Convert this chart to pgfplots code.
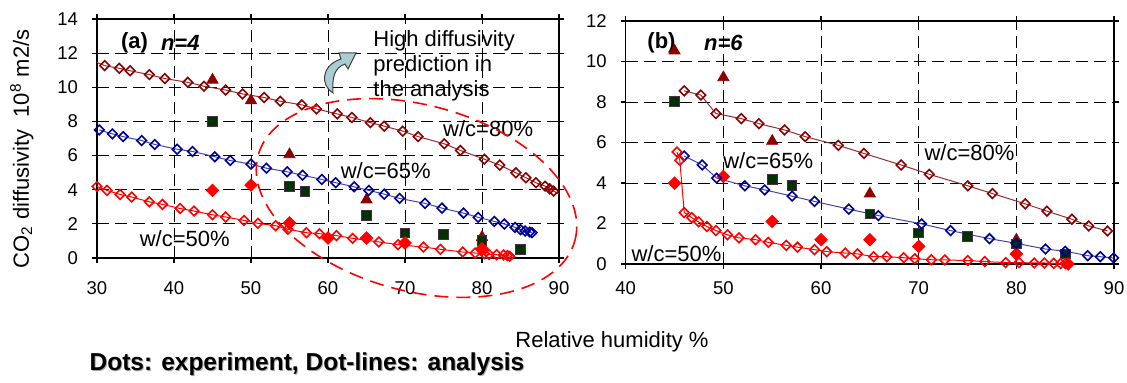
\documentclass[border=0pt]{standalone}
\usepackage{fontspec}
\setmainfont{Liberation Sans}
\usepackage{pgfplots}
\pgfplotsset{compat=1.18}
\definecolor{dred}{RGB}{140,0,0}
\definecolor{dredline}{RGB}{150,45,45}
\definecolor{navym}{RGB}{0,0,150}
\definecolor{navyl}{RGB}{60,70,175}
\definecolor{gsq}{RGB}{0,50,0}
\definecolor{gsqedge}{RGB}{80,40,80}
\definecolor{arrowfill}{RGB}{170,205,212}
\newcommand\tickfont{\fontsize{9.25}{11}\selectfont}
\newcommand\labfont{\fontsize{11}{13}\selectfont}
\pgfplotsset{
 panel/.style={scale only axis, axis line style={line width=0.6pt},
   grid=major, major grid style={black, line width=0.45pt, dash pattern=on 6pt off 3pt},
   tick align=outside, major tick length=2.5pt, tick style={black, line width=0.6pt},
   ticklabel style={font=\tickfont}, /pgf/number format/assume math mode=true,
   yticklabel style={xshift=-3.5pt}, clip=false},
 anal80/.style={color=dredline, line width=0.5pt, mark=square, mark size=1.7pt,
   mark options={rotate=45, line width=0.8pt, fill=white, draw=dred, solid}},
 anal65/.style={color=navyl, line width=0.5pt, mark=square, mark size=1.7pt,
   mark options={rotate=45, line width=0.8pt, fill=white, draw=navym, solid}},
 anal50/.style={color=red, line width=0.5pt, mark=square, mark size=1.7pt,
   mark options={rotate=45, line width=0.8pt, fill=white, draw=red, solid}},
 exptri/.style={only marks, mark=triangle*, mark size=3.2pt, mark options={fill=dred, draw=dred}},
 expsq/.style={only marks, mark=square*, mark size=2.4pt, mark options={fill=gsq, draw=gsqedge, line width=0.4pt}},
 expdia/.style={only marks, mark=square*, mark size=2.2pt, mark options={rotate=45, fill=red, draw=red}},
}
\begin{document}
\begin{tikzpicture}
\useasboundingbox (0,0) rectangle (563.5pt,191.5pt);
% ---------------- panel (a)
\begin{axis}[panel, at={(48.5pt,62.5pt)}, anchor=south west, width=231pt, height=119.5pt,
  xmin=30, xmax=90, ymin=0, ymax=14, xtick={30,40,...,90}, ytick={0,2,...,14},
  xticklabel style={yshift=-6pt}]
\addplot[exptri] coordinates {(45,10.43)(50,9.22)(55,6.06)(65,3.41)(80,1.22)};
\addplot[expsq] coordinates {(45,8.01)(55,4.21)(57,3.90)(65,2.50)(70,1.48)(75,1.38)(80,1.03)(85,0.51)};
\addplot[expdia] coordinates {(45,3.96)(50,4.27)(55,2.05)(60,1.17)(65,1.17)(70,0.88)(80,0.55)};
\addplot[dredline, line width=0.5pt] coordinates {(30,11.45)(31.0,11.27)};
\addplot[dredline, line width=0.5pt] coordinates {(89.3,3.92)(90,3.75)};
\addplot[anal80] coordinates {(31.0,11.27)(32.9,11.11)(34.3,10.97)(36.8,10.74)(38.8,10.51)(41.8,10.29)(43.9,10.06)(46.7,9.84)(48.9,9.61)(51.7,9.40)(53.8,9.18)(56.6,8.97)(58.5,8.73)(61.2,8.44)(63.1,8.23)(65.5,7.93)(67.3,7.72)(69.7,7.43)(71.7,7.11)(75.1,6.69)(77.2,6.30)(80.3,5.79)(82.3,5.44)(84.4,4.99)(85.7,4.70)(87.0,4.41)(88.2,4.21)(88.8,4.05)(89.3,3.92)};
\addplot[anal65] coordinates {(30.3,7.50)(32.0,7.27)(33.4,7.11)(35.8,6.88)(37.5,6.65)(40.4,6.37)(42.4,6.24)(45.3,5.93)(47.3,5.71)(50.0,5.50)(52.0,5.26)(54.7,5.05)(56.7,4.85)(59.2,4.60)(61.0,4.41)(63.4,4.17)(65.3,3.96)(67.3,3.74)(69.3,3.49)(72.6,3.20)(74.8,2.92)(77.6,2.63)(79.5,2.38)(81.6,2.14)(82.9,1.99)(84.3,1.79)(85.0,1.66)(85.6,1.58)(86.2,1.52)(86.5,1.48)};
\addplot[anal50] coordinates {(30.0,4.19)(31.3,3.96)(33.0,3.72)(34.5,3.57)(36.8,3.29)(38.5,3.14)(40.8,2.90)(42.6,2.75)(45.0,2.53)(46.7,2.40)(49.1,2.20)(50.9,2.03)(53.2,1.89)(54.8,1.68)(57.2,1.48)(58.9,1.42)(61.1,1.31)(63.2,1.15)(66.6,0.94)(69.1,0.78)(72.4,0.64)(74.6,0.51)(77.5,0.35)(79.1,0.29)(80.3,0.25)(80.9,0.21)(81.9,0.19)(82.8,0.18)(83.3,0.14)(83.6,0.10)};
\node[font=\labfont\bfseries, anchor=west] at (axis cs:32.2,12.6) {(a)};
\node[font=\labfont\bfseries\itshape, anchor=west] at (axis cs:37.4,12.6) {n=4};
\node[font=\labfont] at (axis cs:80.8,7.56) {w/c=80\%};
\node[font=\labfont] at (axis cs:67.5,5.09) {w/c=65\%};
\node[font=\labfont] at (axis cs:41.4,1.13) {w/c=50\%};
\end{axis}
% ---------------- panel (b)
\begin{axis}[panel, at={(312.85pt,59.5pt)}, anchor=south west, width=244.15pt, height=121.5pt,
  xmin=40, xmax=90, ymin=0, ymax=12, xtick={40,50,...,90}, ytick={0,2,...,12},
  xticklabel style={yshift=-3pt}]
\addplot[exptri] coordinates {(45,10.53)(50,9.21)(55,6.07)(65,3.47)(80,1.19)};
\addplot[expsq] coordinates {(45,8.04)(55,4.18)(57,3.88)(65,2.48)(70,1.54)(75,1.37)(80,0.99)(85,0.50)};
\addplot[expdia] coordinates {(45,3.99)(50,4.32)(55,2.10)(60,1.20)(65,1.20)(70,0.87)(80,0.50)(85.3,0.0)};
\addplot[anal80] coordinates {(45.99,8.55)(47.69,8.34)(49.24,7.43)(51.83,7.18)(53.64,6.93)(56.26,6.62)(58.37,6.29)(61.77,5.86)(64.39,5.46)(68.20,4.89)(71.08,4.43)(75.03,3.86)(77.55,3.48)(80.91,2.97)(83.13,2.61)(85.68,2.21)(87.41,1.88)(89.33,1.63)};
\addplot[anal65] coordinates {(45.99,5.33)(47.83,4.89)(49.31,4.24)(52.20,3.86)(54.23,3.66)(57.04,3.35)(59.33,3.09)(62.84,2.71)(65.87,2.39)(70.30,1.98)(73.26,1.65)(77.25,1.25)(79.99,1.02)(82.98,0.74)(85.01,0.63)(87.30,0.41)(88.60,0.36)(89.96,0.30)};
\addplot[anal50] coordinates {(45.25,5.53)(45.54,5.12)(45.99,2.54)(46.76,2.29)(47.46,2.08)(48.31,1.85)(49.24,1.65)(50.42,1.44)(51.60,1.29)(53.30,1.20)(54.60,1.07)(56.44,0.92)(57.59,0.83)(59.33,0.71)(60.58,0.61)(62.47,0.54)(63.73,0.50)(65.39,0.36)(66.72,0.36)(68.46,0.31)(69.60,0.26)(71.30,0.21)(72.67,0.20)(75.03,0.17)(76.77,0.12)(78.91,0.07)(80.28,0.07)(81.83,0.05)(82.87,0.05)(83.83,0.03)(84.53,0.02)(85.01,0.02)(85.31,0.0)};
\node[font=\labfont\bfseries, anchor=west] at (axis cs:41.5,10.93) {(b)};
\node[font=\labfont\bfseries\itshape, anchor=west] at (axis cs:47.3,10.93) {n=6};
\node[font=\labfont] at (axis cs:75.2,5.5) {w/c=80\%};
\node[font=\labfont] at (axis cs:54.6,5.12) {w/c=65\%};
\node[font=\labfont] at (axis cs:45.2,0.5) {w/c=50\%};
\end{axis}
% ---------------- annotations
\draw[red, line width=0.8pt, dash pattern=on 7pt off 4pt, rotate around={-15:(208.25pt,92.5pt)}]
  (208.25pt,92.5pt) ellipse [x radius=82pt, y radius=46.5pt];
\filldraw[fill=arrowfill, draw=black!75, line width=0.5pt]
  (166.5pt,145pt) .. controls (160.5pt,148.5pt) and (160pt,158.5pt) .. (170.5pt,162pt)
  -- (169.5pt,165pt) -- (178pt,165pt) -- (174pt,157pt) -- (172.5pt,159.5pt)
  .. controls (167pt,157.5pt) and (166pt,152.5pt) .. (166.5pt,145pt) -- cycle;
\node[font=\labfont, anchor=base west, inner sep=0pt] at (186.5pt,168pt) {High diffusivity};
\node[font=\labfont, anchor=base west, inner sep=0pt] at (186.5pt,155.5pt) {prediction in};
\node[font=\labfont, anchor=base west, inner sep=0pt] at (186.5pt,143pt) {the analysis};
\node[font=\labfont, rotate=90] at (10.85pt,117pt) {CO\textsubscript{2} diffusivity\ \ 10\textsuperscript{8} m2/s};
\node[font=\labfont] at (306pt,20.5pt) {Relative humidity \%};
\node[font=\fontsize{12.25}{14}\selectfont\bfseries, text=black!35] at (154pt,9pt) {Dots: experiment, Dot-lines: analysis};
\node[font=\fontsize{12.25}{14}\selectfont\bfseries] at (153.5pt,9.5pt) {Dots: experiment, Dot-lines: analysis};
\end{tikzpicture}
\end{document}
